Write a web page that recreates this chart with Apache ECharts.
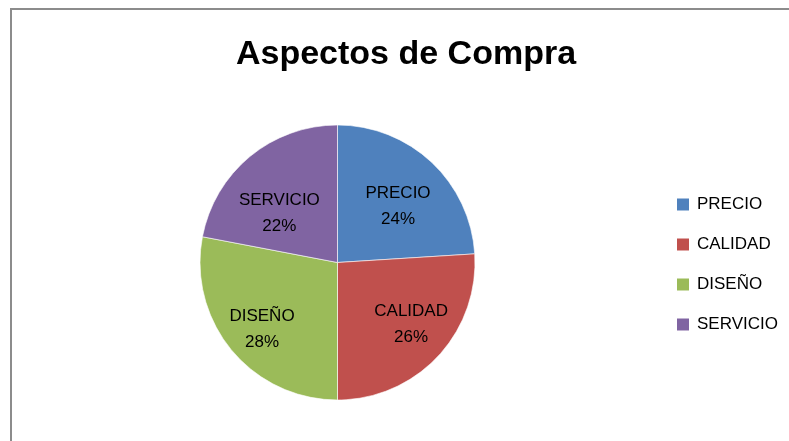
<!DOCTYPE html>
<html>
<head>
<meta charset="utf-8">
<script src="https://cdn.jsdelivr.net/npm/echarts@6/dist/echarts.min.js"></script>
<style>
  html, body { margin: 0; padding: 0; background: #fff; }
  #chart { width: 789px; height: 441px; }
</style>
</head>
<body>
<div id="chart"></div>
<script>
// 数据
let categories = ["PRECIO", "CALIDAD", "DISEÑO", "SERVICIO"];
let values = [24, 26, 28, 22];
let colors = ["#4F81BD", "#C0504D", "#9BBB59", "#8064A2"];

// 标签微调（Excel 的 bestFit 位置）
let labelShift = [[-3, 11], [6, -2], [-4, 8], [1, 22]];

let FONT = "Liberation Sans, Arial, sans-serif";

let chart = echarts.init(document.getElementById("chart"));

chart.setOption({
  backgroundColor: "#fff",
  animation: false,
  color: colors,
  graphic: [
    // 外框
    {
      type: "rect",
      shape: { x: 11, y: 9, width: 820, height: 480 },
      style: { fill: "none", stroke: "#8c8c8c", lineWidth: 2 },
      silent: true
    },
    // 标题
    {
      type: "text",
      x: 406,
      y: 55,
      style: {
        text: "Aspectos de Compra",
        font: "bold 34px 'Liberation Sans', Arial, sans-serif",
        fill: "#000",
        textAlign: "center",
        textVerticalAlign: "middle"
      }
    }
  ],
  legend: {
    orient: "vertical",
    left: 670,
    top: 191,
    itemWidth: 14,
    itemHeight: 14,
    itemGap: 23,
    icon: "rect",
    data: categories,
    textStyle: {
      fontFamily: FONT,
      fontSize: 17,
      color: "#000",
      padding: [0, 0, 0, 2]
    }
  },
  series: [
    {
      type: "pie",
      center: [337.5, 262.5],
      radius: 137.5,
      startAngle: 90,
      clockwise: true,
      data: categories.map(function (name, i) {
        return { name: name, value: values[i] };
      }),
      label: { show: false },
      labelLine: { show: false },
      itemStyle: { borderColor: "#fff", borderWidth: 0.6 },
      emphasis: { disabled: true }
    },
    {
      // 只用来放标签
      type: "pie",
      center: [337.5, 262.5],
      radius: [42, 137.5],
      startAngle: 90,
      clockwise: true,
      silent: true,
      data: categories.map(function (name, i) {
        return { name: name, value: values[i], label: { offset: labelShift[i] } };
      }),
      itemStyle: { color: "rgba(0,0,0,0)" },
      label: {
        show: true,
        position: "inside",
        fontFamily: FONT,
        fontSize: 17,
        lineHeight: 26,
        color: "#000",
        formatter: "{b}\n{d}%"
      },
      labelLine: { show: false },
      emphasis: { disabled: true }
    }
  ]
});
</script>
</body>
</html>
